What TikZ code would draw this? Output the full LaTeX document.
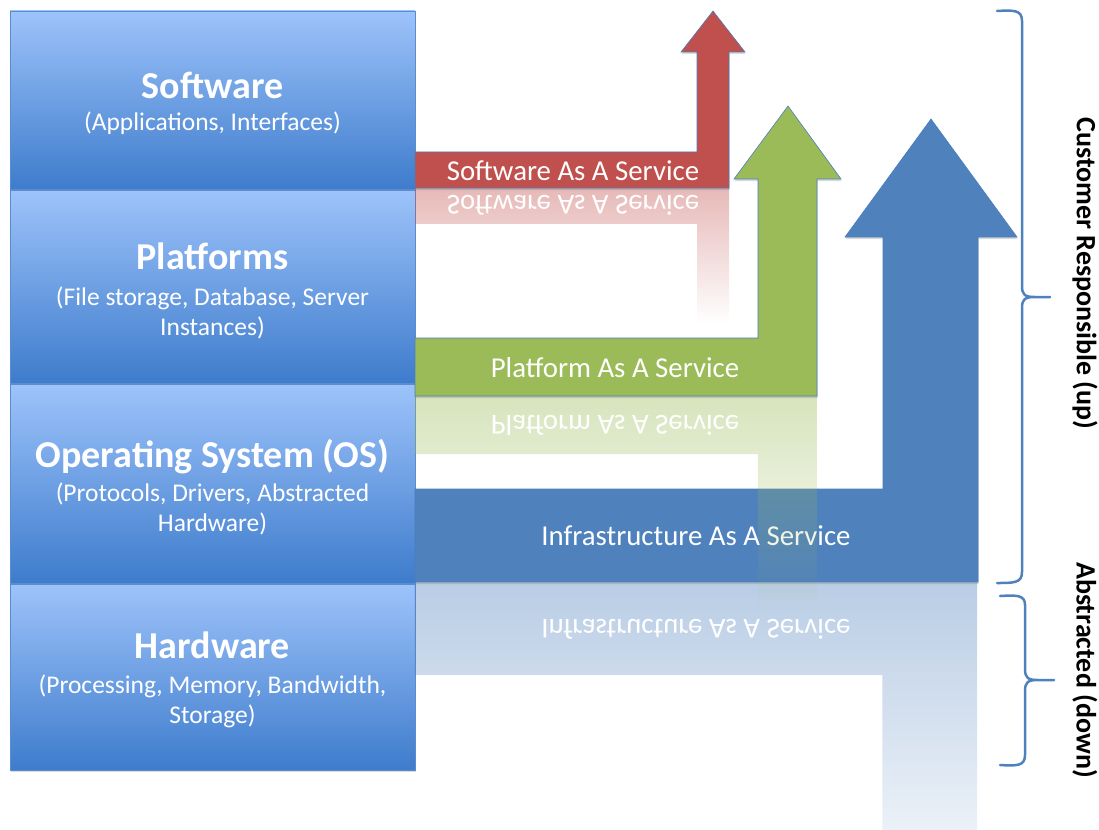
\documentclass[tikz,border=0pt]{standalone}
\usepackage{fontspec}
\setmainfont{Carlito}
\usepackage{xcolor}
\usepackage{tikz}
\usetikzlibrary{calc, fadings, shadows}

\definecolor{boxtop}{RGB}{157,195,250}
\definecolor{boxbot}{RGB}{62,124,204}
\definecolor{boxline}{RGB}{92,140,208}
\definecolor{saasred}{RGB}{192,80,77}
\definecolor{paasgreen}{RGB}{155,187,89}
\definecolor{iaasblue}{RGB}{79,129,189}
\definecolor{arrowline}{RGB}{74,126,187}

\tikzfading[name=reflect fade, top color=transparent!60, bottom color=transparent!100]

\begin{document}
\begin{tikzpicture}[x=1pt, y=-1pt,
  softshadow/.style={drop shadow={shadow xshift=0.5pt, shadow yshift=-2pt, opacity=0.3}},
  layer/.style={draw=boxline, line width=0.6pt, top color=boxtop, bottom color=boxbot,
    minimum width=405pt, inner sep=0pt, softshadow},
  laytitle/.style={text=white, anchor=base, font=\fontsize{38}{44}\selectfont\bfseries},
  laysub/.style={text=white, align=center, font=\fontsize{25.5}{30}\selectfont},
  service/.style={text=white, font=\fontsize{28.8}{34}\selectfont, text height=19pt,
    text depth=6pt, inner sep=0pt},
  mirrored/.style={service, yscale=-1},
  svcarrow/.style={draw=arrowline, line width=0.6pt, softshadow},
  reflection/.style={path fading=reflect fade},
  bracket/.style={draw=iaasblue, line width=2.5pt, line join=round, line cap=round},
  side/.style={rotate=-90, font=\fontsize{28}{32}\selectfont\bfseries}]
  \useasboundingbox (0,0) rectangle (1099,829);

  % Layer stack
  \node[layer, minimum height=178pt] (software) at (212.5,100) {};
  \node[layer, minimum height=193pt] (platforms) at (212.5,286.5) {};
  \node[layer, minimum height=199pt] (os) at (212.5,483.5) {};
  \node[layer, minimum height=186pt] (hardware) at (212.5,677) {};

  \node[laytitle] (software-t) at (212.5,99) {Software};
  \node[laysub, anchor=base] (software-s) at (212.5,131) {(Applications, Interfaces)};
  \node[laytitle] (platforms-t) at (212.5,269) {Platforms};
  \node[laysub] (platforms-s) at (212.5,312.5) {(File storage, Database, Server\\Instances)};
  \node[laytitle] (os-t) at (212.5,467) {Operating System (OS)};
  \node[laysub] (os-s) at (212.5,508.5) {(Protocols, Drivers, Abstracted\\Hardware)};
  \node[laytitle] (hardware-t) at (212.5,658) {Hardware};
  \node[laysub] (hardware-s) at (212.5,701) {(Processing, Memory, Bandwidth,\\Storage)};

  % Infrastructure as a service
  \fill[iaasblue, reflection] (415,582) -- (978,582) -- (978,927) -- (883,927)
    -- (883,675) -- (415,675) -- cycle;
  \node[mirrored] (iaas-r) at (696,625.5) {Infrastructure As A Service};
  \draw[svcarrow, fill=iaasblue] (415,489) -- (883,489) -- (883,237) -- (845,237)
    -- (931,119) -- (1017,237) -- (978,237) -- (978,582) -- (415,582) -- cycle;
  \node[service] (iaas) at (696,538.5) {Infrastructure As A Service};

  % Platform as a service
  \fill[paasgreen, reflection] (415,396) -- (817,396) -- (817,613) -- (758,613)
    -- (758,454) -- (415,454) -- cycle;
  \node[mirrored] (paas-r) at (615,421.5) {Platform As A Service};
  \draw[svcarrow, fill=paasgreen] (415,338) -- (758,338) -- (758,179) -- (734,179)
    -- (788,106) -- (841,179) -- (817,179) -- (817,396) -- (415,396) -- cycle;
  \node[service] (paas) at (615,370.5) {Platform As A Service};

  % Software as a service
  \fill[saasred, reflection] (415,188) -- (729,188) -- (729,324) -- (697,324)
    -- (697,224) -- (415,224) -- cycle;
  \node[mirrored] (saas-r) at (573,202.5) {Software As A Service};
  \draw[svcarrow, fill=saasred] (415,152) -- (697,152) -- (697,52) -- (681,52)
    -- (713,11) -- (745,52) -- (729,52) -- (729,188) -- (415,188) -- cycle;
  \node[service] (saas) at (573,173.5) {Software As A Service};

  % Brackets
  \draw[bracket] (997,11) .. controls (1014,10) and (1022,10) .. (1022,21) -- (1022,286)
    .. controls (1022,295) and (1025,297) .. (1035,297) -- (1050,297)
    (1035,297) .. controls (1025,297) and (1022,299) .. (1022,308) -- (1022,572)
    .. controls (1022,583) and (1014,583) .. (997,583);
  \draw[bracket] (1000,596) .. controls (1017,595) and (1025,595) .. (1025,605) -- (1025,669)
    .. controls (1025,678) and (1028,680) .. (1038,680) -- (1054,680)
    (1038,680) .. controls (1028,680) and (1025,682) .. (1025,691) -- (1025,755)
    .. controls (1025,766) and (1017,766) .. (1000,765);
  \node[side] (customer) at (1085,273.5) {Customer Responsible (up)};
  \node[side] (abstracted) at (1085,670) {Abstracted (down)};
\end{tikzpicture}
\end{document}
